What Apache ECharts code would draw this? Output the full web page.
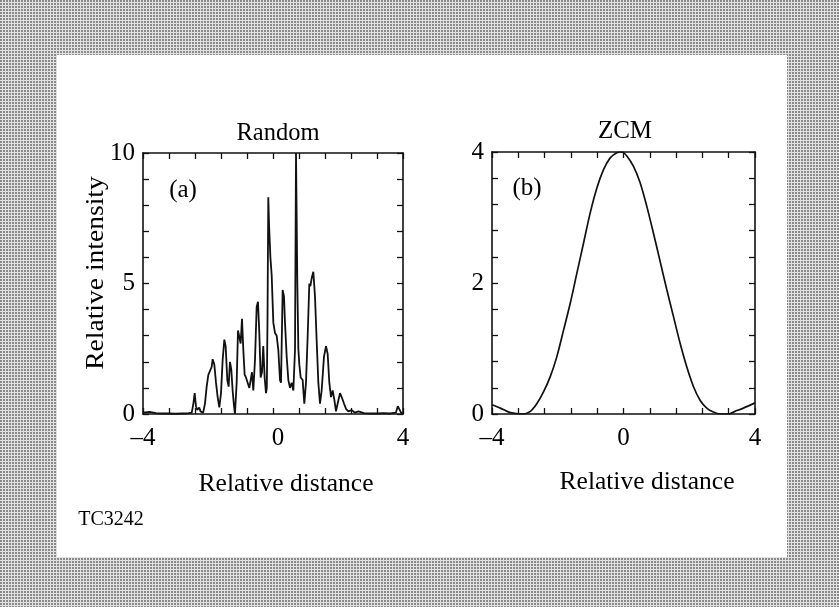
<!DOCTYPE html>
<html>
<head>
<meta charset="utf-8">
<script src="https://cdn.jsdelivr.net/npm/echarts@6/dist/echarts.min.js"></script>
<style>
html,body{margin:0;padding:0;background:#fff;}
#chart{width:839px;height:607px;}
</style>
</head>
<body>
<div id="chart"></div>
<script>
// ---- Data ----
const xTickLabels = ['\u20134', '0', '4'];
const yTickLabelsA = ['0', '5', '10'];
const yTickLabelsB = ['0', '2', '4'];

// Panel (a) "Random"
const randomX = [-4.00,-3.80,-3.60,-3.40,-3.20,-3.00,-2.80,-2.60,-2.50,-2.45,-2.41,-2.37,-2.33,-2.27,-2.23,-2.195,-2.15,-2.124,-2.093,-2.041,-1.99,-1.939,-1.888,-1.857,-1.806,-1.754,-1.703,-1.652,-1.60,-1.549,-1.498,-1.457,-1.406,-1.365,-1.324,-1.283,-1.242,-1.20,-1.17,-1.118,-1.077,-1.036,-0.995,-0.954,-0.913,-0.872,-0.831,-0.78,-0.729,-0.688,-0.647,-0.606,-0.554,-0.503,-0.462,-0.421,-0.38,-0.339,-0.30,-0.257,-0.216,-0.19,-0.17,-0.145,-0.12,-0.08,-0.04,0.01,0.062,0.113,0.164,0.215,0.246,0.297,0.338,0.369,0.421,0.472,0.523,0.574,0.626,0.677,0.708,0.749,0.78,0.81,0.851,0.913,0.94,0.964,1.015,1.067,1.118,1.15,1.19,1.241,1.292,1.344,1.395,1.446,1.497,1.569,1.631,1.682,1.733,1.785,1.836,1.887,1.938,1.99,2.062,2.113,2.185,2.246,2.318,2.421,2.523,2.626,2.80,3.00,3.20,3.40,3.60,3.78,3.84,3.89,3.94,4.00];
const randomY = [0.05,0.08,0.03,0.02,0.02,0.01,0.02,0.03,0.05,0.4,0.8,0.3,0.15,0.25,0.1,0.15,0.05,0.1,0.4,1.05,1.5,1.55,1.8,2.1,1.9,1.2,0.65,0.25,0.8,2.07,2.85,2.6,1.3,1.05,2.0,1.7,0.9,0.3,0.0,1.2,3.2,2.95,2.7,3.65,2.45,1.5,1.4,1.2,1.0,1.3,1.6,0.9,2.07,4.1,4.3,3.1,1.4,1.6,2.6,1.4,0.8,1.0,3.5,8.3,7.2,6.0,5.3,3.5,3.1,3.0,2.45,1.3,1.2,4.75,4.5,3.5,2.2,1.3,1.0,1.2,0.9,2.45,10,5.0,2.5,1.9,1.4,1.3,0.8,0.4,1.2,3.0,5.0,4.9,5.2,5.45,4.5,2.8,1.2,0.4,0.9,2.2,2.6,2.3,1.2,0.65,0.9,0.55,0.1,0.4,0.8,0.65,0.4,0.2,0.1,0.15,0.05,0.1,0.03,0.02,0.02,0.03,0.02,0.05,0.3,0.25,0.05,0.02];

// Panel (b) "ZCM"
const zcmX = [-4.0,-3.747,-3.443,-3.038,-2.835,-2.633,-2.430,-2.228,-2.025,-1.823,-1.620,-1.418,-1.215,-1.013,-0.810,-0.608,-0.405,-0.203,-0.051,0.101,0.304,0.506,0.709,0.911,1.114,1.316,1.519,1.722,1.924,2.127,2.329,2.532,2.734,2.937,3.190,3.392,3.646,4.0];
const zcmY = [0.14,0.09,0.02,0.0,0.04,0.16,0.34,0.57,0.88,1.28,1.69,2.15,2.61,3.07,3.45,3.73,3.91,3.99,4.0,3.94,3.78,3.53,3.17,2.76,2.33,1.9,1.49,1.08,0.72,0.42,0.21,0.09,0.03,0.0,0.0,0.04,0.09,0.17];

// ---- Chart ----
const FONT = "'Liberation Serif','DejaVu Serif',serif";
const INK = '#111';

function pairs(xs, ys){ return xs.map((x,i)=>[x, ys[i]]); }

function xLabelFactory(shiftZero){
  return function(v){
    const r = Math.round(v);
    if (Math.abs(v - r) < 1e-6 && r % 4 === 0) {
      const idx = (r + 4) / 4;
      const s = xTickLabels[idx];
      return (shiftZero && r === 0) ? '{z|' + s + '}' : s;
    }
    return '';
  };
}
function yLabelFactory(step, labels){
  return function(v){
    const k = v / step;
    const r = Math.round(k);
    if (Math.abs(k - r) < 1e-6 && r >= 0 && r < labels.length) return labels[r];
    return '';
  };
}

function makeX(grid, pos, show, shiftZero){
  return {
    type:'value', gridIndex:grid, position:pos, min:-4, max:4, interval:0.8,
    axisLine:{show:true, onZero:false, lineStyle:{color:INK, width:1.6}},
    axisTick:{show:true, inside:true, length:6, lineStyle:{color:INK, width:1.3}},
    axisLabel:{show:show, margin:12, color:'#000', fontFamily:FONT, fontSize:25,
      formatter:xLabelFactory(shiftZero), showMinLabel:true, showMaxLabel:true,
      rich:{z:{fontFamily:FONT, fontSize:25, color:'#000', padding:[0,0,0,10]}}},
    splitLine:{show:false}
  };
}
function makeY(grid, pos, max, interval, show, labels, margin){
  return {
    type:'value', gridIndex:grid, position:pos, min:0, max:max, interval:interval,
    axisLine:{show:true, onZero:false, lineStyle:{color:INK, width:1.6}},
    axisTick:{show:true, inside:true, length:6, lineStyle:{color:INK, width:1.3}},
    axisLabel:{show:show, margin:margin, color:'#000', fontFamily:FONT, fontSize:25,
      formatter: labels ? yLabelFactory(max/ (labels.length-1), labels) : ''},
    splitLine:{show:false}
  };
}

// halftone pattern for the frame
const pat = document.createElement('canvas');
pat.width = 3; pat.height = 3;
const pc = pat.getContext('2d');
pc.fillStyle = '#e2e2e2'; pc.fillRect(0,0,3,3);
pc.fillStyle = '#8a8a8a'; pc.fillRect(0,0,2,2);
const patternFill = {image: pat, repeat: 'repeat'};

function txt(text, x, y, size, extra){
  return Object.assign({
    type:'text', x:x, y:y, z:10,
    style:{text:text, fill:'#000', font: size + 'px ' + FONT, textAlign:'center', textVerticalAlign:'middle'}
  }, extra || {});
}

const chart = echarts.init(document.getElementById('chart'), null, {renderer:'canvas'});
chart.setOption({
  backgroundColor:'#ffffff',
  animation:false,
  grid:[
    {left:143, top:153, width:260, height:261},
    {left:492, top:152, width:263, height:262}
  ],
  xAxis:[ makeX(0,'bottom',true,true), makeX(0,'top',false,false), makeX(1,'bottom',true,false), makeX(1,'top',false,false) ],
  yAxis:[
    makeY(0,'left',10,1,true,yTickLabelsA,8),
    makeY(0,'right',10,1,false,null,8),
    makeY(1,'left',4,0.4,true,yTickLabelsB,8),
    makeY(1,'right',4,0.4,false,null,8)
  ],
  series:[
    {type:'line', xAxisIndex:0, yAxisIndex:0, data:pairs(randomX, randomY), showSymbol:false, clip:true,
     lineStyle:{color:INK, width:1.8}, z:3},
    {type:'line', xAxisIndex:2, yAxisIndex:2, data:pairs(zcmX, zcmY), showSymbol:false, smooth:0.3, clip:true,
     lineStyle:{color:INK, width:1.7}, z:3}
  ],
  graphic:[
    // frame (four bands)
    {type:'rect', z:-5, silent:true, shape:{x:0, y:0, width:839, height:55}, style:{fill:patternFill}},
    {type:'rect', z:-5, silent:true, shape:{x:0, y:557, width:839, height:50}, style:{fill:patternFill}},
    {type:'rect', z:-5, silent:true, shape:{x:0, y:55, width:57, height:502}, style:{fill:patternFill}},
    {type:'rect', z:-5, silent:true, shape:{x:787, y:55, width:52, height:502}, style:{fill:patternFill}},
    txt('Random', 278, 134, 24.5),
    txt('ZCM', 625, 131, 25),
    txt('(a)', 183, 190, 25),
    txt('(b)', 527, 188, 25),
    txt('Relative distance', 286, 484, 25.5),
    txt('Relative distance', 647, 482, 25.5),
    txt('Relative intensity', 96, 273, 25.5, {rotation: Math.PI/2, scaleX: 1.08}),
    txt('TC3242', 111, 520, 20)
  ]
});
</script>
</body>
</html>
